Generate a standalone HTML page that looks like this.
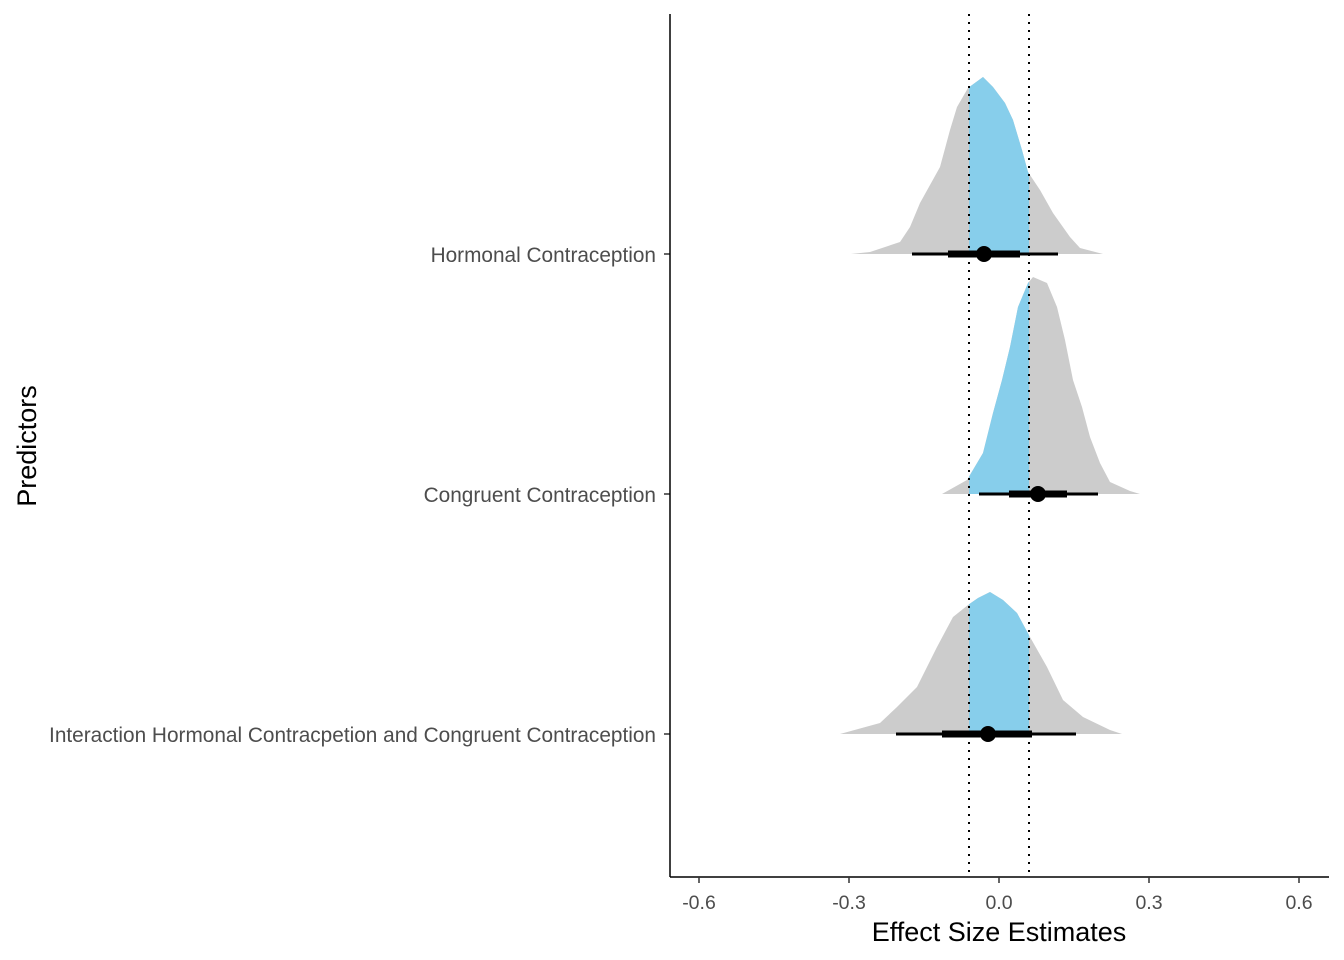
<!DOCTYPE html>
<html><head><meta charset="utf-8"><style>
body{margin:0;background:#fff;}
svg{display:block;font-family:"Liberation Sans",Arial,sans-serif;}
</style></head><body>
<svg id="chart" width="1344" height="960">
<defs><clipPath id="rope"><rect x="969" y="0" width="60" height="960"/></clipPath></defs>
<g id="dens"></g>
<g id="axes"></g>
</svg>
<script>
const categories=["Hormonal Contraception","Congruent Contraception","Interaction Hormonal Contracpetion and Congruent Contraception"];
const xTicks=[-0.6,-0.3,0.0,0.3,0.6];
const tickLabels=["-0.6","-0.3","0.0","0.3","0.6"];
const ropeLo=-0.06, ropeHi=0.06;
const dens1X=[-0.296,-0.258,-0.198,-0.178,-0.158,-0.138,-0.118,-0.098,-0.084,-0.062,-0.032,-0.012,0.012,0.028,0.046,0.058,0.082,0.108,0.142,0.162,0.208];
const dens1Y=[0,0.1,0.6,1.35,2.55,3.45,4.35,6.2,7.35,8.3,8.85,8.35,7.55,6.7,5.2,4.1,3.2,2.05,0.85,0.3,0];
const dens2X=[-0.114,-0.064,-0.032,-0.012,0.006,0.022,0.038,0.058,0.068,0.096,0.116,0.132,0.148,0.166,0.182,0.202,0.222,0.262,0.282];
const dens2Y=[0,0.7,2.05,4.05,5.7,7.35,9.35,10.55,10.85,10.55,9.35,7.7,5.7,4.35,2.85,1.55,0.6,0.15,0];
const dens3X=[-0.318,-0.238,-0.204,-0.164,-0.124,-0.092,-0.062,-0.042,-0.018,0.008,0.036,0.062,0.096,0.128,0.168,0.222,0.246];
const dens3Y=[0,0.55,1.35,2.35,4.35,5.85,6.45,6.8,7.1,6.7,6.05,4.85,3.35,1.7,0.85,0.2,0];
const pointEst=[-0.030,0.078,-0.022];
const innerLo=[-0.102,0.020,-0.114], innerHi=[0.042,0.136,0.066];
const outerLo=[-0.174,-0.040,-0.206], outerHi=[0.118,0.198,0.154];

const NS="http://www.w3.org/2000/svg";
const xs=v=>999+v*500;
const rowY=i=>254+i*240;
const ds=(d,i)=>rowY(i)-d*20;
function mk(t,a,p){const e=document.createElementNS(NS,t);for(const k in a)e.setAttribute(k,a[k]);p.appendChild(e);return e;}
const dens=document.getElementById('dens'), ax=document.getElementById('axes');
const DX=[dens1X,dens2X,dens3X], DY=[dens1Y,dens2Y,dens3Y];
for(let i=0;i<3;i++){
  let d='M'+xs(DX[i][0])+','+rowY(i);
  DX[i].forEach((x,j)=>{d+=' L'+xs(x)+','+ds(DY[i][j],i);});
  d+=' L'+xs(DX[i][DX[i].length-1])+','+rowY(i)+'Z';
  const g=mk('path',{d:d,fill:'#cccccc'},dens);
  
  
  const b=mk('path',{d:d,fill:'#87ceeb','clip-path':'url(#rope)'},dens);
  
  
}
[ropeLo,ropeHi].forEach((v,k)=>{
  const l=mk('line',{x1:xs(v),x2:xs(v),y1:14,y2:877,stroke:'#000','stroke-width':2,'stroke-dasharray':'2,6'},ax);
  
  
});
for(let i=0;i<3;i++){
  const y=rowY(i);
  const o=mk('line',{x1:xs(outerLo[i]),x2:xs(outerHi[i]),y1:y,y2:y,stroke:'#000','stroke-width':3},ax);
  
  
  const n=mk('line',{x1:xs(innerLo[i]),x2:xs(innerHi[i]),y1:y,y2:y,stroke:'#000','stroke-width':7},ax);
  
  
  const c=mk('circle',{cx:xs(pointEst[i]),cy:y,r:8,fill:'#000'},ax);
  
  
  const t=mk('line',{x1:664,x2:670,y1:y,y2:y,stroke:'#333','stroke-width':1.5},ax);
  
  
  const lb=mk('text',{x:656,y:y+8,'text-anchor':'end','font-size':20.8,fill:'#4d4d4d'},ax);
  lb.textContent=categories[i];
  
  
}
const ya=mk('line',{x1:670,x2:670,y1:14,y2:877,stroke:'#000','stroke-width':1.5},ax);


const xa=mk('line',{x1:670,x2:1329,y1:877,y2:877,stroke:'#000','stroke-width':1.5},ax);


xTicks.forEach((v,k)=>{
  const t=mk('line',{x1:xs(v),x2:xs(v),y1:877,y2:883,stroke:'#333','stroke-width':1.5},ax);
  
  
  const lb=mk('text',{x:xs(v),y:909,'text-anchor':'middle','font-size':19.5,fill:'#4d4d4d'},ax);
  lb.textContent=tickLabels[k];
  
  
});
const xt=mk('text',{x:999,y:941,'text-anchor':'middle','font-size':27,fill:'#000'},ax);
xt.textContent='Effect Size Estimates';


const yt=mk('text',{x:0,y:0,'text-anchor':'middle','font-size':27,fill:'#000',transform:'translate(36,446) rotate(-90)'},ax);
yt.textContent='Predictors';


</script>
</body></html>
